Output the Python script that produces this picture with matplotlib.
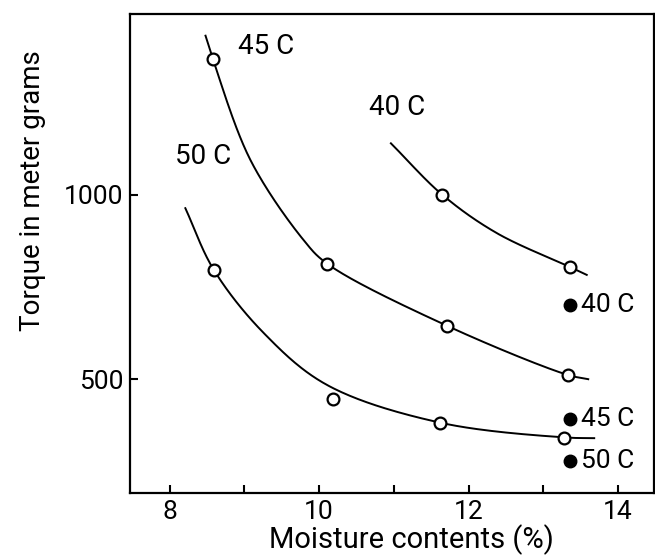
import numpy as np
import matplotlib
matplotlib.use("Agg")
import matplotlib.pyplot as plt

plt.rcParams['font.family'] = ['Roboto', 'DejaVu Sans']

# measured points (open circles)
x40 = [11.65, 13.35]
y40 = [1000, 805]
x45 = [8.58, 10.11, 11.71, 13.33]
y45 = [1368, 813, 645, 512]
x50 = [8.59, 10.18, 11.62, 13.28]
y50 = [797, 447, 382, 340]
# filled reference points
xf = [13.36, 13.36, 13.36]
yf = [702, 392, 277]
f_labels = ["40 C", "45 C", "50 C"]

# hand-drawn trend curves
c40_x = [10.96, 11.65, 12.38, 13.35, 13.58]
c40_y = [1140, 1000, 896, 805, 783]
c45_x = [8.48, 8.58, 9.08, 9.79, 10.11, 11.71, 13.32, 13.60]
c45_y = [1432, 1368, 1095, 878, 813, 645, 512, 500]
c50_x = [8.21, 8.59, 9.26, 10.10, 11.62, 13.29, 13.68]
c50_y = [964, 797, 625, 485, 382, 342, 340]

XS, YS = 74.8, 0.3687  # px per data unit, for smoothing in screen-like space


def smooth(xs, ys, n=40):
    P = np.column_stack([np.asarray(xs) * XS, np.asarray(ys) * YS])
    P = np.vstack([2 * P[0] - P[1], P, 2 * P[-1] - P[-2]])
    out = []
    for i in range(1, len(P) - 2):
        p0, p1, p2, p3 = P[i - 1], P[i], P[i + 1], P[i + 2]
        t0 = 0.0
        t1 = t0 + np.linalg.norm(p1 - p0) ** 0.5
        t2 = t1 + np.linalg.norm(p2 - p1) ** 0.5
        t3 = t2 + np.linalg.norm(p3 - p2) ** 0.5
        t = np.linspace(t1, t2, n)[:, None]
        a1 = (t1 - t) / (t1 - t0) * p0 + (t - t0) / (t1 - t0) * p1
        a2 = (t2 - t) / (t2 - t1) * p1 + (t - t1) / (t2 - t1) * p2
        a3 = (t3 - t) / (t3 - t2) * p2 + (t - t2) / (t3 - t2) * p3
        b1 = (t2 - t) / (t2 - t0) * a1 + (t - t0) / (t2 - t0) * a2
        b2 = (t3 - t) / (t3 - t1) * a2 + (t - t1) / (t3 - t1) * a3
        c = (t2 - t) / (t2 - t1) * b1 + (t - t1) / (t2 - t1) * b2
        out.append(c)
    C = np.vstack(out)
    return C[:, 0] / XS, C[:, 1] / YS


fig = plt.figure(figsize=(6.55, 5.58), dpi=100)
ax = fig.add_axes([0.1985, 0.117, 0.8, 0.858])

for cx, cy in [(c40_x, c40_y), (c45_x, c45_y), (c50_x, c50_y)]:
    sx, sy = smooth(cx, cy)
    ax.plot(sx, sy, color='black', lw=1.4, zorder=2)

for px, py in [(x40, y40), (x45, y45), (x50, y50)]:
    ax.plot(px, py, 'o', ms=8.5, mfc='white', mec='black', mew=1.6, ls='none', zorder=3)

ax.plot(xf, yf, 'o', ms=9, color='black', ls='none', zorder=3)
for x, y, t in zip(xf, yf, f_labels):
    ax.text(x + 0.14, y, t, ha='left', va='center', fontsize=19)

ax.text(9.29, 1402, "45 C", ha='center', va='center', fontsize=20)
ax.text(8.45, 1103, "50 C", ha='center', va='center', fontsize=20)
ax.text(11.04, 1236, "40 C", ha='center', va='center', fontsize=20)

ax.set_xlim(7.47, 14.48)
ax.set_ylim(192, 1491)
ax.set_xticks([8, 10, 12, 14])
ax.set_xticks([9, 11, 13], minor=True)
ax.set_yticks([500, 1000])
ax.tick_params(which='both', direction='in', length=6, width=1.5, labelsize=19, pad=5)
for s in ax.spines.values():
    s.set_linewidth(1.6)

ax.set_xlabel("Moisture contents (%)", fontsize=21)
ax.set_ylabel("Torque in meter grams", fontsize=20)
ax.xaxis.set_label_coords(0.538, -0.066)
ax.yaxis.set_label_coords(-0.16, 0.632)

fig.savefig("out.png", dpi=100)
